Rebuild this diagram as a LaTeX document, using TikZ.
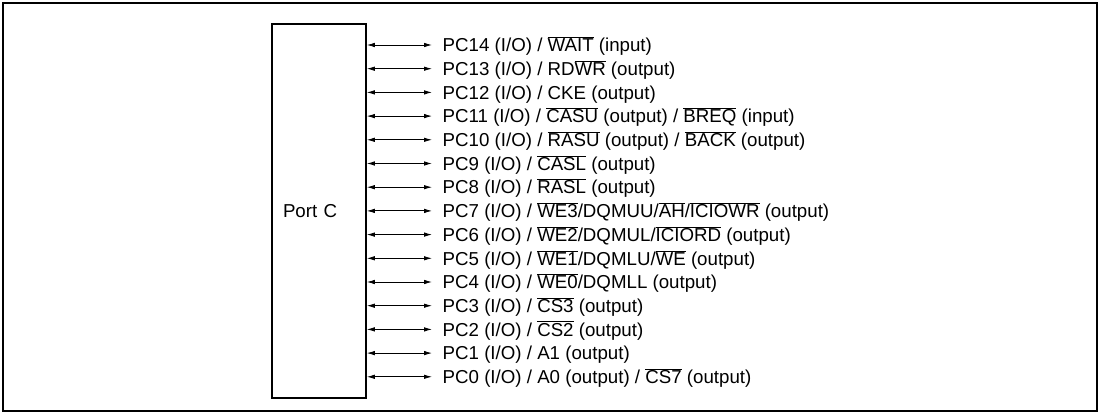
\documentclass[tikz,border=0pt]{standalone}
\usepackage{fontspec}
\setmainfont{Liberation Sans}
\usetikzlibrary{positioning, arrows.meta}

\newcommand{\ovl}[1]{$\overline{\mbox{#1}}$}

\begin{document}
\begin{tikzpicture}[
x=1pt, y=1pt,
font=\fontsize{18.7}{20}\selectfont,
frame/.style={draw, line width=2pt},
box/.style={rectangle, draw, line width=1.6pt, minimum width=94pt, minimum height=374pt, inner sep=0pt, text width=72pt, align=left},
pin/.style={anchor=west, inner xsep=10.5pt, inner ysep=0pt, text height=13.4pt, text depth=0pt},
arrow/.style={{Latex[length=8pt,width=4.5pt]}-{Latex[length=8pt,width=4.5pt]}, line width=0.8pt}
]

\useasboundingbox (0,0) rectangle (1100,-414);
\draw[frame] (3,-3) rectangle (1097,-411);

\node[box] (port_c) at (319,-211) {Port C};

\node[pin] (pin_pc14) at (432,-45.0) {PC14 (I/O) / \ovl{WAIT} (input)};
\node[pin] (pin_pc13) at (432,-68.7) {PC13 (I/O) / RD\ovl{WR} (output)};
\node[pin] (pin_pc12) at (432,-92.4) {PC12 (I/O) / CKE (output)};
\node[pin] (pin_pc11) at (432,-116.1) {PC11 (I/O) / \ovl{CASU} (output) / \ovl{BREQ} (input)};
\node[pin] (pin_pc10) at (432,-139.8) {PC10 (I/O) / \ovl{RASU} (output) / \ovl{BACK} (output)};
\node[pin] (pin_pc9) at (432,-163.5) {PC9 (I/O) / \ovl{CASL} (output)};
\node[pin] (pin_pc8) at (432,-187.2) {PC8 (I/O) / \ovl{RASL} (output)};
\node[pin] (pin_pc7) at (432,-210.9) {PC7 (I/O) / \ovl{WE3}/DQMUU/\ovl{AH}/\ovl{ICIOWR} (output)};
\node[pin] (pin_pc6) at (432,-234.6) {PC6 (I/O) / \ovl{WE2}/DQMUL/\ovl{ICIORD} (output)};
\node[pin] (pin_pc5) at (432,-258.3) {PC5 (I/O) / \ovl{WE1}/DQMLU/\ovl{WE} (output)};
\node[pin] (pin_pc4) at (432,-282.0) {PC4 (I/O) / \ovl{WE0}/DQMLL (output)};
\node[pin] (pin_pc3) at (432,-305.7) {PC3 (I/O) / \ovl{CS3} (output)};
\node[pin] (pin_pc2) at (432,-329.4) {PC2 (I/O) / \ovl{CS2} (output)};
\node[pin] (pin_pc1) at (432,-353.1) {PC1 (I/O) / A1 (output)};
\node[pin] (pin_pc0) at (432,-376.8) {PC0 (I/O) / A0 (output) / \ovl{CS7} (output)};

\draw[arrow] (port_c.east |- pin_pc14.west) -- (pin_pc14.west);
\draw[arrow] (port_c.east |- pin_pc13.west) -- (pin_pc13.west);
\draw[arrow] (port_c.east |- pin_pc12.west) -- (pin_pc12.west);
\draw[arrow] (port_c.east |- pin_pc11.west) -- (pin_pc11.west);
\draw[arrow] (port_c.east |- pin_pc10.west) -- (pin_pc10.west);
\draw[arrow] (port_c.east |- pin_pc9.west) -- (pin_pc9.west);
\draw[arrow] (port_c.east |- pin_pc8.west) -- (pin_pc8.west);
\draw[arrow] (port_c.east |- pin_pc7.west) -- (pin_pc7.west);
\draw[arrow] (port_c.east |- pin_pc6.west) -- (pin_pc6.west);
\draw[arrow] (port_c.east |- pin_pc5.west) -- (pin_pc5.west);
\draw[arrow] (port_c.east |- pin_pc4.west) -- (pin_pc4.west);
\draw[arrow] (port_c.east |- pin_pc3.west) -- (pin_pc3.west);
\draw[arrow] (port_c.east |- pin_pc2.west) -- (pin_pc2.west);
\draw[arrow] (port_c.east |- pin_pc1.west) -- (pin_pc1.west);
\draw[arrow] (port_c.east |- pin_pc0.west) -- (pin_pc0.west);

\end{tikzpicture}
\end{document}
